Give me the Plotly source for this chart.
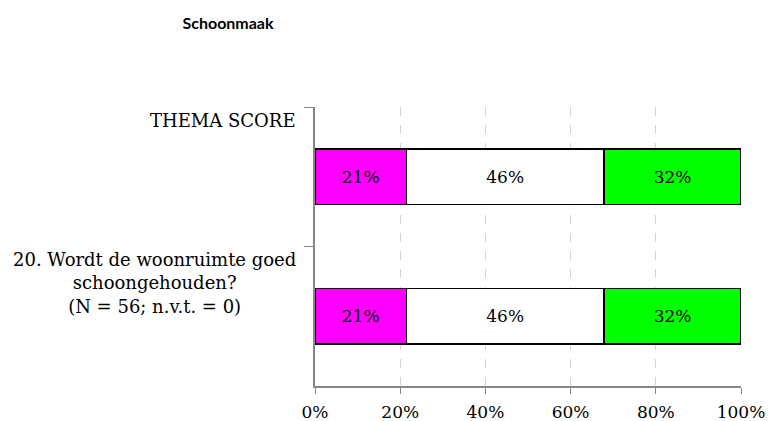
import plotly.graph_objects as go

categories = ["THEMA SCORE", "20. Wordt de woonruimte goed<br>schoongehouden?<br>(N = 56; n.v.t. = 0)"]
cat_keys = ["THEMA SCORE", "Q20"]
negative = [0.2143, 0.2143]
neutral = [0.4643, 0.4643]
positive = [0.3214, 0.3214]
series = [("negatief", negative, "#FF00FF"), ("neutraal", neutral, "#FFFFFF"), ("positief", positive, "#00FF00")]
x_ticks = [0, 0.2, 0.4, 0.6, 0.8, 1.0]
x_ticklabels = ["0%", "20%", "40%", "60%", "80%", "100%"]

SERIF = "DejaVu Serif, Liberation Serif, serif"
W, H = 768, 413  # page body has an 8px margin

fig = go.Figure()
for name, vals, col in series:
    fig.add_trace(go.Bar(
        y=cat_keys, x=vals, name=name, orientation="h",
        marker=dict(color=col, line=dict(color="#000000", width=1.5)),
        width=0.4,
        texttemplate="%{x:.0%}", textposition="inside", insidetextanchor="middle",
        textangle=0, constraintext="none",
        textfont=dict(family=SERIF, size=17, color="#000000"),
        hoverinfo="skip",
    ))

for key, lab in zip(cat_keys, categories):
    fig.add_annotation(
        x=0, xref="paper", y=key, yref="y", text=lab,
        xanchor="right", yanchor="top", xshift=-17, yshift=69,
        align="center", showarrow=False,
        font=dict(family=SERIF, size=18, color="#000000"),
    )

fig.update_layout(
    template="none",
    width=W, height=H,
    margin=dict(l=307, r=35, t=99, b=35),
    paper_bgcolor="white", plot_bgcolor="white",
    barmode="stack", showlegend=False, bargap=0.6,
    hovermode=False,
    title=dict(text="<b>Schoonmaak</b>", x=220/W, xanchor="center", y=1 - 15/H, yanchor="middle",
               font=dict(family="Lato, Open Sans, sans-serif", size=16, color="#000000")),
)
fig.update_xaxes(
    range=[0, 1], tickvals=x_ticks, ticktext=x_ticklabels, automargin=False,
    showgrid=True, gridcolor="#D4D4D4", griddash="dash", gridwidth=1,
    showline=True, linecolor="#868686", linewidth=1.5,
    ticks="outside", ticklen=6, tickcolor="#868686", tickwidth=1,
    ticklabelstandoff=4,
    tickfont=dict(family=SERIF, size=17, color="#000000"),
    zeroline=False, fixedrange=True,
)
fig.update_yaxes(
    categoryorder="array", categoryarray=cat_keys, autorange="reversed", automargin=False,
    showticklabels=False, tickson="boundaries",
    ticks="outside", ticklen=9, tickcolor="#868686", tickwidth=1,
    showline=True, linecolor="#868686", linewidth=1.5,
    showgrid=False, zeroline=False, fixedrange=True,
)

fig.write_html("out.html")
